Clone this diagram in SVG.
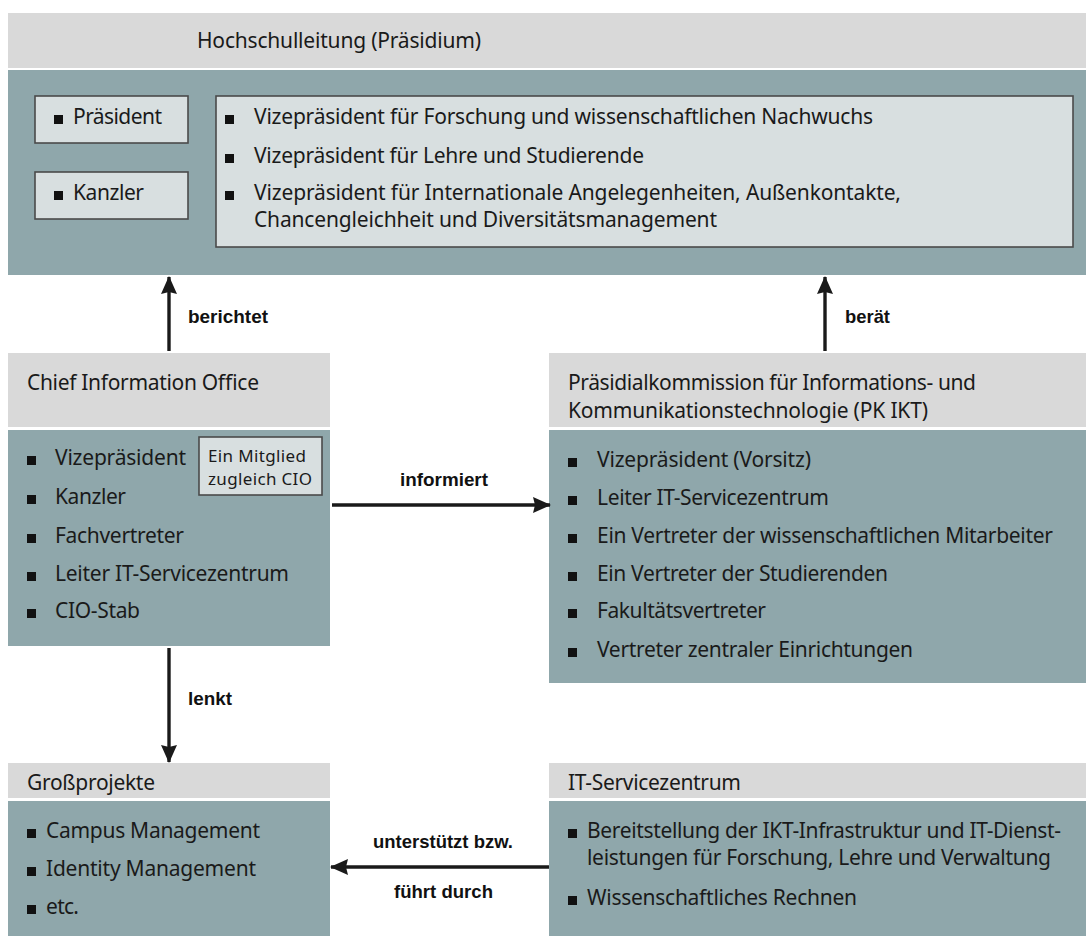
<svg xmlns="http://www.w3.org/2000/svg" width="1086" height="936" viewBox="0 0 1086 936">
<style>
.hdr{fill:#d9d9d9}
.body{fill:#8fa7ab}
.box{fill:#d8dfe0;stroke:#4a4a4a;stroke-width:1.6}
.t{font-family:"Noto Sans","Open Sans",sans-serif;font-size:21px;fill:#1a1a1a}
.s{font-family:"Noto Sans","Open Sans",sans-serif;font-size:17px;fill:#1a1a1a}
.lbl{font-family:"Liberation Sans","Noto Sans",sans-serif;font-size:19px;font-weight:bold;fill:#111}
.b{fill:#111}
.conn{stroke:#1a1a1a;stroke-width:3.4;fill:none;marker-end:url(#ah)}
</style>
<defs>
<marker id="ah" markerUnits="userSpaceOnUse" markerWidth="20" markerHeight="18" refX="17" refY="8" orient="auto">
<path d="M0,0 L18,8 L0,16 L2,8 Z" fill="#1a1a1a"/>
</marker>
</defs>
<rect width="1086" height="936" fill="#ffffff"/>

<g id="hochschulleitung">
<rect class="hdr" x="8" y="13" width="1078" height="55"/>
<rect class="body" x="8" y="70" width="1078" height="205"/>
<text class="t" x="197" y="48" textLength="284">Hochschulleitung (Präsidium)</text>
<rect class="box" x="35" y="96" width="153" height="47"/>
<rect class="b" x="54" y="115" width="9" height="9"/>
<text class="t" x="73" y="124" textLength="89">Präsident</text>
<rect class="box" x="35" y="172" width="153" height="47"/>
<rect class="b" x="54" y="191" width="9" height="9"/>
<text class="t" x="73" y="200" textLength="71">Kanzler</text>
<rect class="box" x="216" y="96" width="857" height="151"/>
<rect class="b" x="225" y="115" width="9" height="9"/>
<text class="t" x="254" y="124" textLength="619">Vizepräsident für Forschung und wissenschaftlichen Nachwuchs</text>
<rect class="b" x="225" y="154" width="9" height="9"/>
<text class="t" x="254" y="163" textLength="390">Vizepräsident für Lehre und Studierende</text>
<rect class="b" x="225" y="191" width="9" height="9"/>
<text class="t" x="254" y="200" textLength="647">Vizepräsident für Internationale Angelegenheiten,  Außenkontakte,</text>
<text class="t" x="254" y="227" textLength="463">Chancengleichheit und Diversitätsmanagement</text>
</g>

<g id="cio">
<rect class="hdr" x="8" y="353" width="322" height="74"/>
<rect class="body" x="8" y="430" width="322" height="216"/>
<text class="t" x="27" y="390" textLength="232">Chief Information Office</text>
<rect class="b" x="27" y="456" width="9" height="9"/>
<text class="t" x="55" y="465" textLength="131">Vizepräsident</text>
<rect class="b" x="27" y="495" width="9" height="9"/>
<text class="t" x="55" y="504" textLength="71">Kanzler</text>
<rect class="b" x="27" y="534" width="9" height="9"/>
<text class="t" x="55" y="543" textLength="129">Fachvertreter</text>
<rect class="b" x="27" y="572" width="9" height="9"/>
<text class="t" x="55" y="581" textLength="234">Leiter IT-Servicezentrum</text>
<rect class="b" x="27" y="609" width="9" height="9"/>
<text class="t" x="55" y="618" textLength="85">CIO-Stab</text>
<rect class="box" x="199" y="437" width="123" height="58"/>
<text class="s" x="208" y="462" textLength="98">Ein Mitglied</text>
<text class="s" x="208" y="485" textLength="104">zugleich CIO</text>
</g>

<g id="pkikt">
<rect class="hdr" x="549" y="353" width="537" height="74"/>
<rect class="body" x="549" y="430" width="537" height="253"/>
<text class="t" x="568" y="390" textLength="408">Präsidialkommission für Informations- und</text>
<text class="t" x="568" y="418" textLength="360">Kommunikationstechnologie (PK IKT)</text>
<rect class="b" x="568" y="458" width="9" height="9"/>
<text class="t" x="597" y="467" textLength="214">Vizepräsident (Vorsitz)</text>
<rect class="b" x="568" y="496" width="9" height="9"/>
<text class="t" x="597" y="505" textLength="232">Leiter IT-Servicezentrum</text>
<rect class="b" x="568" y="534" width="9" height="9"/>
<text class="t" x="597" y="543" textLength="456">Ein Vertreter der wissenschaftlichen Mitarbeiter</text>
<rect class="b" x="568" y="572" width="9" height="9"/>
<text class="t" x="597" y="581" textLength="291">Ein Vertreter der Studierenden</text>
<rect class="b" x="568" y="609" width="9" height="9"/>
<text class="t" x="597" y="618" textLength="169">Fakultätsvertreter</text>
<rect class="b" x="568" y="648" width="9" height="9"/>
<text class="t" x="597" y="657" textLength="316">Vertreter zentraler Einrichtungen</text>
</g>

<g id="grossprojekte">
<rect class="hdr" x="8" y="763" width="322" height="35"/>
<rect class="body" x="8" y="801" width="322" height="135"/>
<text class="t" x="27" y="790" textLength="128">Großprojekte</text>
<rect class="b" x="27" y="829" width="9" height="9"/>
<text class="t" x="46" y="838" textLength="214">Campus Management</text>
<rect class="b" x="27" y="867" width="9" height="9"/>
<text class="t" x="46" y="876" textLength="210">Identity Management</text>
<rect class="b" x="27" y="905" width="9" height="9"/>
<text class="t" x="46" y="914" textLength="33">etc.</text>
</g>

<g id="itsz">
<rect class="hdr" x="549" y="763" width="537" height="35"/>
<rect class="body" x="549" y="801" width="537" height="135"/>
<text class="t" x="568" y="790" textLength="173">IT-Servicezentrum</text>
<rect class="b" x="568" y="829" width="9" height="9"/>
<text class="t" x="587" y="838" textLength="474">Bereitstellung der IKT-Infrastruktur und IT-Dienst-</text>
<text class="t" x="587" y="865" textLength="464">leistungen für Forschung, Lehre und Verwaltung</text>
<rect class="b" x="568" y="896" width="9" height="9"/>
<text class="t" x="587" y="905" textLength="270">Wissenschaftliches Rechnen</text>
</g>

<g id="connectors">
<line class="conn" x1="169" y1="351" x2="169" y2="277"/>
<text class="lbl" x="188" y="323" textLength="80" lengthAdjust="spacingAndGlyphs">berichtet</text>
<line class="conn" x1="825" y1="351" x2="825" y2="277"/>
<text class="lbl" x="845" y="323" textLength="45" lengthAdjust="spacingAndGlyphs">berät</text>
<line class="conn" x1="332" y1="505" x2="550" y2="505"/>
<text class="lbl" x="400" y="486" textLength="88" lengthAdjust="spacingAndGlyphs">informiert</text>
<line class="conn" x1="169" y1="648" x2="169" y2="762"/>
<text class="lbl" x="188" y="705" textLength="44" lengthAdjust="spacingAndGlyphs">lenkt</text>
<line class="conn" x1="549" y1="867" x2="331" y2="867"/>
<text class="lbl" x="373" y="848" textLength="140" lengthAdjust="spacingAndGlyphs">unterstützt bzw.</text>
<text class="lbl" x="394" y="898" textLength="99" lengthAdjust="spacingAndGlyphs">führt durch</text>
</g>
</svg>
